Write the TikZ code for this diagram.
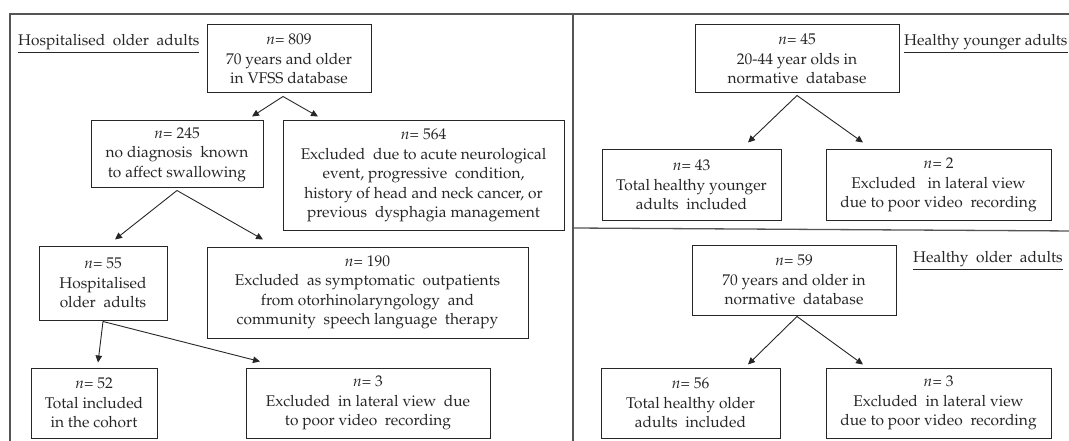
\documentclass[tikz,border=0pt]{standalone}
\usepackage[T1]{fontenc}
\usepackage{mathpazo}
\usetikzlibrary{arrows.meta}
\definecolor{ink}{HTML}{262626}
\definecolor{frame}{HTML}{555555}
\tikzset{
  box/.style={draw=ink, line width=1pt, align=center, inner sep=2pt, text=ink,
    font=\fontsize{15.5}{19.5}\selectfont},
  lbl/.style={anchor=west, inner sep=0pt, text=ink, font=\fontsize{15.5}{19.5}\selectfont},
  arr/.style={draw=ink, line width=0.9pt, -{Triangle[length=7pt,width=6.5pt]}},
  rule/.style={draw=frame, line width=1.3pt}
}
\begin{document}
\begin{tikzpicture}[x=1pt,y=-1pt]
\useasboundingbox (0,0) rectangle (1069,441);
% frame
\coordinate (fl) at (10,441);
\coordinate (ftl) at (10,14);
\coordinate (ftr) at (1075,14);
\coordinate (dt) at (573,14);
\coordinate (db) at (573,445);
\coordinate (hl) at (573,228);
\coordinate (hr) at (1075,231);
\draw[rule] (fl) -- (ftl) -- (ftr);
\draw[rule] (dt) -- (db);
\draw[rule] (hl) -- (hr);
% labels
\node[lbl] (lh) at (18,44) {\underline{Hospitalised\ \ older\ \ adults}};
\node[lbl] (ly) at (904,44) {\underline{Healthy younger adults}};
\node[lbl] (lo) at (913,261) {\underline{Healthy\ \ older\ \ adults}};
% left panel
\node[box, minimum width=164pt, minimum height=68pt] (n809) at (289,59)
  {$n$= 809\\70 years and older\\in VFSS database};
\node[box, minimum width=172pt, minimum height=67pt] (n245) at (177,154.5)
  {$n$= 245\\no diagnosis\ \ known\\to affect swallowing};
\node[box, minimum width=281pt, minimum height=109pt] (n564) at (423.5,175.5)
  {$n$= 564\\Excluded\ \ due to acute neurological\\event,\ progressive\ \ condition,\\history of head and neck cancer, or\\previous\ \ dysphagia management};
\node[box, minimum width=128pt, minimum height=74pt] (n55) at (103,283)
  {$n$= 55\\Hospitalised\\older\ \ adults};
\node[box, minimum width=321pt, minimum height=91pt] (n190) at (367.5,292.5)
  {$n$= 190\\Excluded\ \ as symptomatic\ \ outpatients\\from otorhinolaryngology\ \ and\\community\ \ speech language\ \ therapy};
\node[box, minimum width=126pt, minimum height=70pt] (n52) at (94,403)
  {$n$= 52\\Total included\\in the cohort};
\node[box, minimum width=244pt, minimum height=70pt] (n3a) at (368,403)
  {$n$= 3\\Excluded\ \ in lateral view\ \ due\\to poor video\ \ recording};
% right panel
\node[box, minimum width=204pt, minimum height=68pt] (n45) at (797,59)
  {$n$= 45\\20-44 year olds\ in\\normative\ \ database};
\node[box, minimum width=179pt, minimum height=70pt] (n43) at (691.5,185)
  {$n$= 43\\Total healthy younger\\adults\ \ included};
\node[box, minimum width=225pt, minimum height=70pt] (n2) at (938.5,185)
  {$n$= 2\\Excluded\ \ \ in lateral view\\due to poor video\ \ recording};
\node[box, minimum width=204pt, minimum height=70pt] (n59) at (794,280)
  {$n$= 59\\70 years and older in\\normative\ \ database};
\node[box, minimum width=179pt, minimum height=70pt] (n56) at (690.5,403)
  {$n$= 56\\Total healthy older\\adults\ \ included};
\node[box, minimum width=225pt, minimum height=70pt] (n3b) at (938.5,403)
  {$n$= 3\\Excluded\ \ in lateral view\\due to poor video\ \ recording};
% arrows
\draw[arr] ([xshift=-6pt,yshift=-3pt]n809.south) -- ([xshift=75pt,yshift=4pt]n245.north);
\draw[arr] ([xshift=-6pt,yshift=-3pt]n809.south) -- ([xshift=-105.5pt,yshift=4pt]n564.north);
\draw[arr] ([yshift=-2pt]n245.south) -- ([xshift=12pt,yshift=6pt]n55.north);
\draw[arr] ([yshift=-2pt]n245.south) -- ([xshift=-104.5pt,yshift=7pt]n190.north);
\draw[arr] ([yshift=-1pt]n55.south) -- ([xshift=4pt,yshift=5pt]n52.north);
\draw[arr] ([yshift=-1pt]n55.south) -- ([xshift=-108pt,yshift=6pt]n3a.north);
\draw[arr] ([yshift=-2pt]n45.south) -- ([xshift=56.5pt,yshift=7pt]n43.north);
\draw[arr] ([yshift=-2pt]n45.south) -- ([xshift=-75.5pt,yshift=7pt]n2.north);
\draw[arr] ([xshift=3pt,yshift=-1pt]n59.south) -- ([xshift=57.5pt,yshift=3pt]n56.north);
\draw[arr] ([xshift=3pt,yshift=-1pt]n59.south) -- ([xshift=-75.5pt,yshift=3pt]n3b.north);
\end{tikzpicture}
\end{document}
